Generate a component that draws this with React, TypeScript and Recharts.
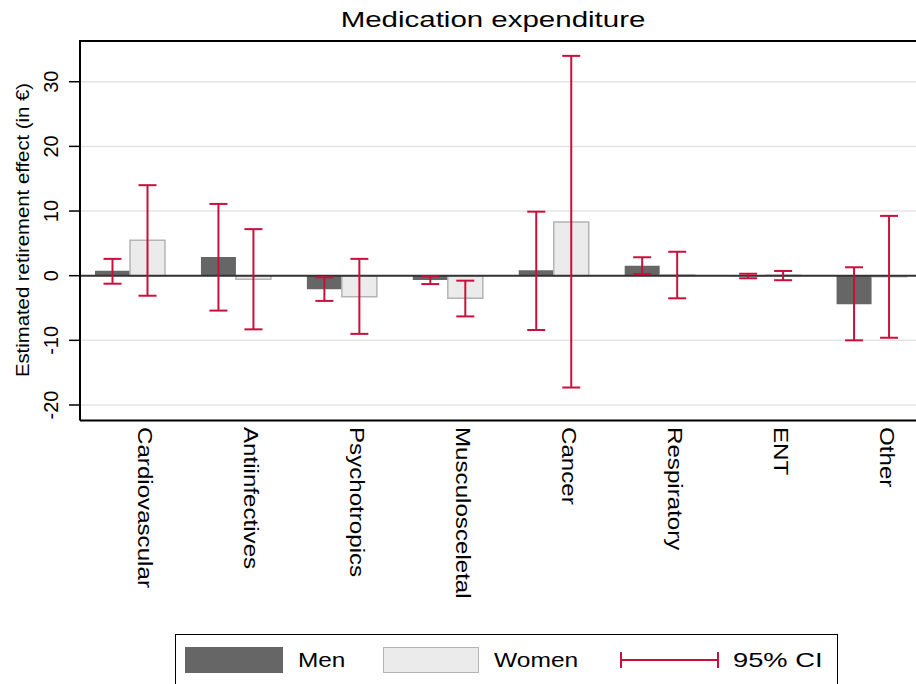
import React from 'react';
import { BarChart, Bar, XAxis, YAxis, CartesianGrid, ErrorBar, ReferenceLine, Legend } from 'recharts';

// ---------- data ----------
const categories = ['Cardiovascular', 'Antiinfectives', 'Psychotropics', 'Musculosceletal', 'Cancer', 'Respiratory', 'ENT', 'Other'];
const menValues = [0.77, 2.9, -2.1, -0.67, 0.83, 1.55, -0.1, -4.4];
const menLow = [-1.24, -5.4, -3.9, -1.3, -8.4, 0.26, -0.4, -10.0];
const menHigh = [2.6, 11.1, -0.25, -0.1, 9.9, 2.85, 0.3, 1.3];
const womenValues = [5.48, -0.56, -3.25, -3.5, 8.3, 0.12, 0.05, -0.15];
const womenLow = [-3.1, -8.3, -9.0, -6.3, -17.3, -3.5, -0.7, -9.6];
const womenHigh = [14.0, 7.2, 2.6, -0.77, 34.0, 3.7, 0.73, 9.25];
const yTicks = [-20, -10, 0, 10, 20, 30];
const yDomain = [-22.4, 36.3];

const titleText = 'Medication expenditure';
const yLabelText = 'Estimated retirement effect (in €)';
const legendLabels = ['Men', 'Women', '95% CI'];

const data = categories.map((cat, i) => ({
  cat,
  men: menValues[i],
  women: womenValues[i],
  menErr: [menValues[i] - menLow[i], menHigh[i] - menValues[i]],
  womenErr: [womenValues[i] - womenLow[i], womenHigh[i] - womenValues[i]],
}));

// ---------- style ----------
const FONT = '"Liberation Sans", Arial, Helvetica, sans-serif';
const CI_COLOR = '#c8103c';
const MEN_COLOR = '#666666';
const WOMEN_FILL = '#ebebeb';
const WOMEN_STROKE = '#b4b4b4';

const XTick = (props: any) => {
  const { x, payload } = props;
  return (
    <text
      transform={`translate(${x + 7.5},427) rotate(90) scale(1.15,1)`}
      fontSize={21}
      fontFamily={FONT}
      fill="#000"
      textAnchor="start"
    >
      {payload.value}
    </text>
  );
};

const YTick = (props: any) => {
  const { y, payload } = props;
  return (
    <text
      transform={`translate(58,${y}) rotate(-90)`}
      fontSize={20}
      fontFamily={FONT}
      fill="#000"
      textAnchor="middle"
    >
      {payload.value}
    </text>
  );
};

const renderYLabel = () => (
  <text
    transform="translate(29,230) rotate(-90) scale(1.07,1)"
    fontSize={19}
    fontFamily={FONT}
    fill="#000"
    textAnchor="middle"
  >
    {yLabelText}
  </text>
);

const legendText: React.CSSProperties = {
  position: 'absolute',
  top: 12,
  height: 26,
  lineHeight: '26px',
  fontSize: 21,
  fontFamily: FONT,
  color: '#000',
  transformOrigin: 'left center',
  whiteSpace: 'nowrap',
};

const renderLegend = () => (
  <div
    style={{
      position: 'relative',
      width: '100%',
      height: '100%',
      border: '1.5px solid #000',
      boxSizing: 'border-box',
      background: '#fff',
    }}
  >
    <div style={{ position: 'absolute', left: 9, top: 12, width: 98, height: 26, background: MEN_COLOR }} />
    <div style={{ ...legendText, left: 122, transform: 'scaleX(1.16)' }}>{legendLabels[0]}</div>
    <div
      style={{
        position: 'absolute',
        left: 207,
        top: 12,
        width: 96,
        height: 26,
        background: WOMEN_FILL,
        border: `1.5px solid ${WOMEN_STROKE}`,
        boxSizing: 'border-box',
      }}
    />
    <div style={{ ...legendText, left: 318, transform: 'scaleX(1.17)' }}>{legendLabels[1]}</div>
    <svg style={{ position: 'absolute', left: 444, top: 15, width: 100, height: 20 }}>
      <line x1={1} y1={10} x2={98} y2={10} stroke={CI_COLOR} strokeWidth={2} />
      <line x1={1} y1={2} x2={1} y2={18} stroke={CI_COLOR} strokeWidth={2} />
      <line x1={98} y1={2} x2={98} y2={18} stroke={CI_COLOR} strokeWidth={2} />
    </svg>
    <div style={{ ...legendText, left: 557, transform: 'scaleX(1.3)' }}>{legendLabels[2]}</div>
  </div>
);

export default function App() {
  return (
    <div style={{ position: 'absolute', left: 0, top: 0, width: 916, height: 684, overflow: 'hidden', background: '#fff' }}>
      <BarChart
        width={925}
        height={684}
        data={data}
        margin={{ top: 41, right: 0, bottom: 63.5, left: 0 }}
        barGap={0}
        barCategoryGap={17.5}
      >
        <CartesianGrid horizontal vertical={false} stroke="#e4e4e4" strokeWidth={1.5} />
        <XAxis
          dataKey="cat"
          height={200}
          interval={0}
          tickLine={false}
          axisLine={{ stroke: '#000', strokeWidth: 2 }}
          tick={<XTick />}
          padding={{ left: -2.5, right: 0 }}
        />
        <YAxis
          type="number"
          domain={yDomain}
          ticks={yTicks}
          interval={0}
          allowDataOverflow
          width={80}
          tickSize={11}
          axisLine={{ stroke: '#000', strokeWidth: 2 }}
          tickLine={{ stroke: '#000', strokeWidth: 1.5 }}
          tick={<YTick />}
          label={renderYLabel}
        />
        <ReferenceLine y={0} stroke="#333" strokeWidth={2} />
        <Bar dataKey="men" fill={MEN_COLOR} isAnimationActive={false}>
          <ErrorBar dataKey="menErr" width={9} stroke={CI_COLOR} strokeWidth={2} direction="y" />
        </Bar>
        <Bar dataKey="women" fill={WOMEN_FILL} stroke={WOMEN_STROKE} strokeWidth={1.5} isAnimationActive={false}>
          <ErrorBar dataKey="womenErr" width={9} stroke={CI_COLOR} strokeWidth={2} direction="y" />
        </Bar>
        <line x1={79} y1={41} x2={925} y2={41} stroke="#000" strokeWidth={2} />
        <text
          transform="translate(493,27) scale(1.34,1)"
          fontSize={22}
          fontFamily={FONT}
          fill="#000"
          textAnchor="middle"
        >
          {titleText}
        </text>
        <Legend
          layout="horizontal"
          verticalAlign="middle"
          align="center"
          wrapperStyle={{ left: 175, top: 634, width: 663, height: 56 }}
          content={renderLegend}
        />
      </BarChart>
    </div>
  );
}
